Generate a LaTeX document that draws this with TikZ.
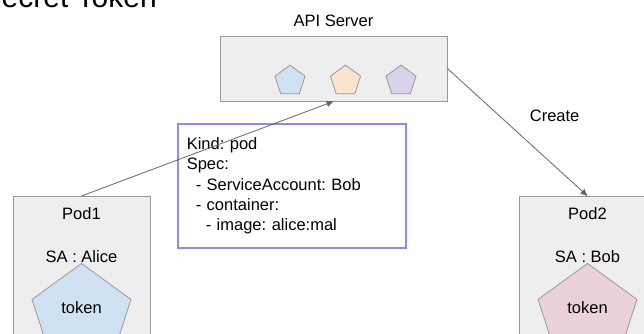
\documentclass[tikz,border=0pt]{standalone}
\usepackage{fontspec}
\setmainfont{Liberation Sans}
\usetikzlibrary{positioning,shapes.geometric,arrows.meta}
\definecolor{boxgray}{HTML}{EEEEEE}
\definecolor{edgegray}{HTML}{999999}
\definecolor{linegray}{HTML}{666666}
\definecolor{specblue}{HTML}{8A8AF6}
\definecolor{tokblue}{HTML}{CFE2F3}
\definecolor{tokorange}{HTML}{FCE5CD}
\definecolor{tokpurple}{HTML}{D9D2E9}
\definecolor{tokpink}{HTML}{EAD1DC}
\frenchspacing
\tikzset{x=1pt, y=-1pt}
\tikzstyle{srv}=[draw=edgegray, fill=boxgray, rectangle, inner sep=0pt, line width=0.8pt]
\tikzstyle{tok}=[draw=edgegray, regular polygon, regular polygon sides=5, inner sep=0pt, line width=0.8pt]
\tikzstyle{lbl}=[inner sep=0pt, font=\fontsize{16.5}{20.3}\selectfont]
\tikzstyle{arrow}=[draw=linegray, line width=0.8pt, -{Triangle[length=7pt,width=6pt]}]

\begin{document}
\begin{tikzpicture}
        \useasboundingbox (0,0) rectangle (644,334);
        \clip (0,0) rectangle (644,334);
        \node (ttl) [anchor=base east, inner sep=0pt, font=\fontsize{30}{36}\selectfont] at (157,8) {Secret Token};
        % api server
        \node (api) [srv, minimum width=227pt, minimum height=65pt] at (333.5,68.5) {};
        \node (apil) [lbl, above=9pt of api] {API Server};
        \node (a1) [tok, fill=tokblue, minimum size=31.6pt] at (290,81) {};
        \node (a2) [tok, fill=tokorange, minimum size=31.6pt] at (345.5,81) {};
        \node (a3) [tok, fill=tokpurple, minimum size=31.6pt] at (401,81) {};
        % pods
        \node (p1) [srv, minimum width=137pt, minimum height=180pt, anchor=north] at (81.5,196) {};
        \node (p1l) [lbl, below=11pt of p1.north] {Pod1};
        \node (p1s) [lbl, below=31pt of p1l] {SA : Alice};
        \node (p1t) [tok, fill=tokblue, minimum size=104pt, anchor=corner 1] at (81.5,263) {};
        \node (p1k) [lbl] at (81.5,308) {token};
        \node (p2) [srv, minimum width=137pt, minimum height=180pt, anchor=north] at (587.5,196) {};
        \node (p2l) [lbl, below=11pt of p2.north] {Pod2};
        \node (p2s) [lbl, below=31pt of p2l] {SA : Bob};
        \node (p2t) [tok, fill=tokpink, minimum size=104pt, anchor=corner 1] at (587.5,263) {};
        \node (p2k) [lbl] at (587.5,308) {token};
        % pod spec
        \node (spec) [draw=specblue, line width=1.5pt, anchor=north west, text width=210pt, inner xsep=9pt, inner ysep=0pt, minimum height=124pt, align=left, font=\fontsize{16.5}{20.3}\selectfont] at (177,123)
            {Kind: pod\\Spec:\\\hspace*{9pt}- ServiceAccount: Bob\\\hspace*{9pt}- container:\\\hspace*{19pt}- image: alice:mal};
        \draw (p1.north) edge[arrow] (api.south);
        \draw (api.east) edge[arrow] node[lbl, anchor=south west, xshift=12pt, yshift=10pt] {Create} (p2.north);
\end{tikzpicture}
\end{document}
